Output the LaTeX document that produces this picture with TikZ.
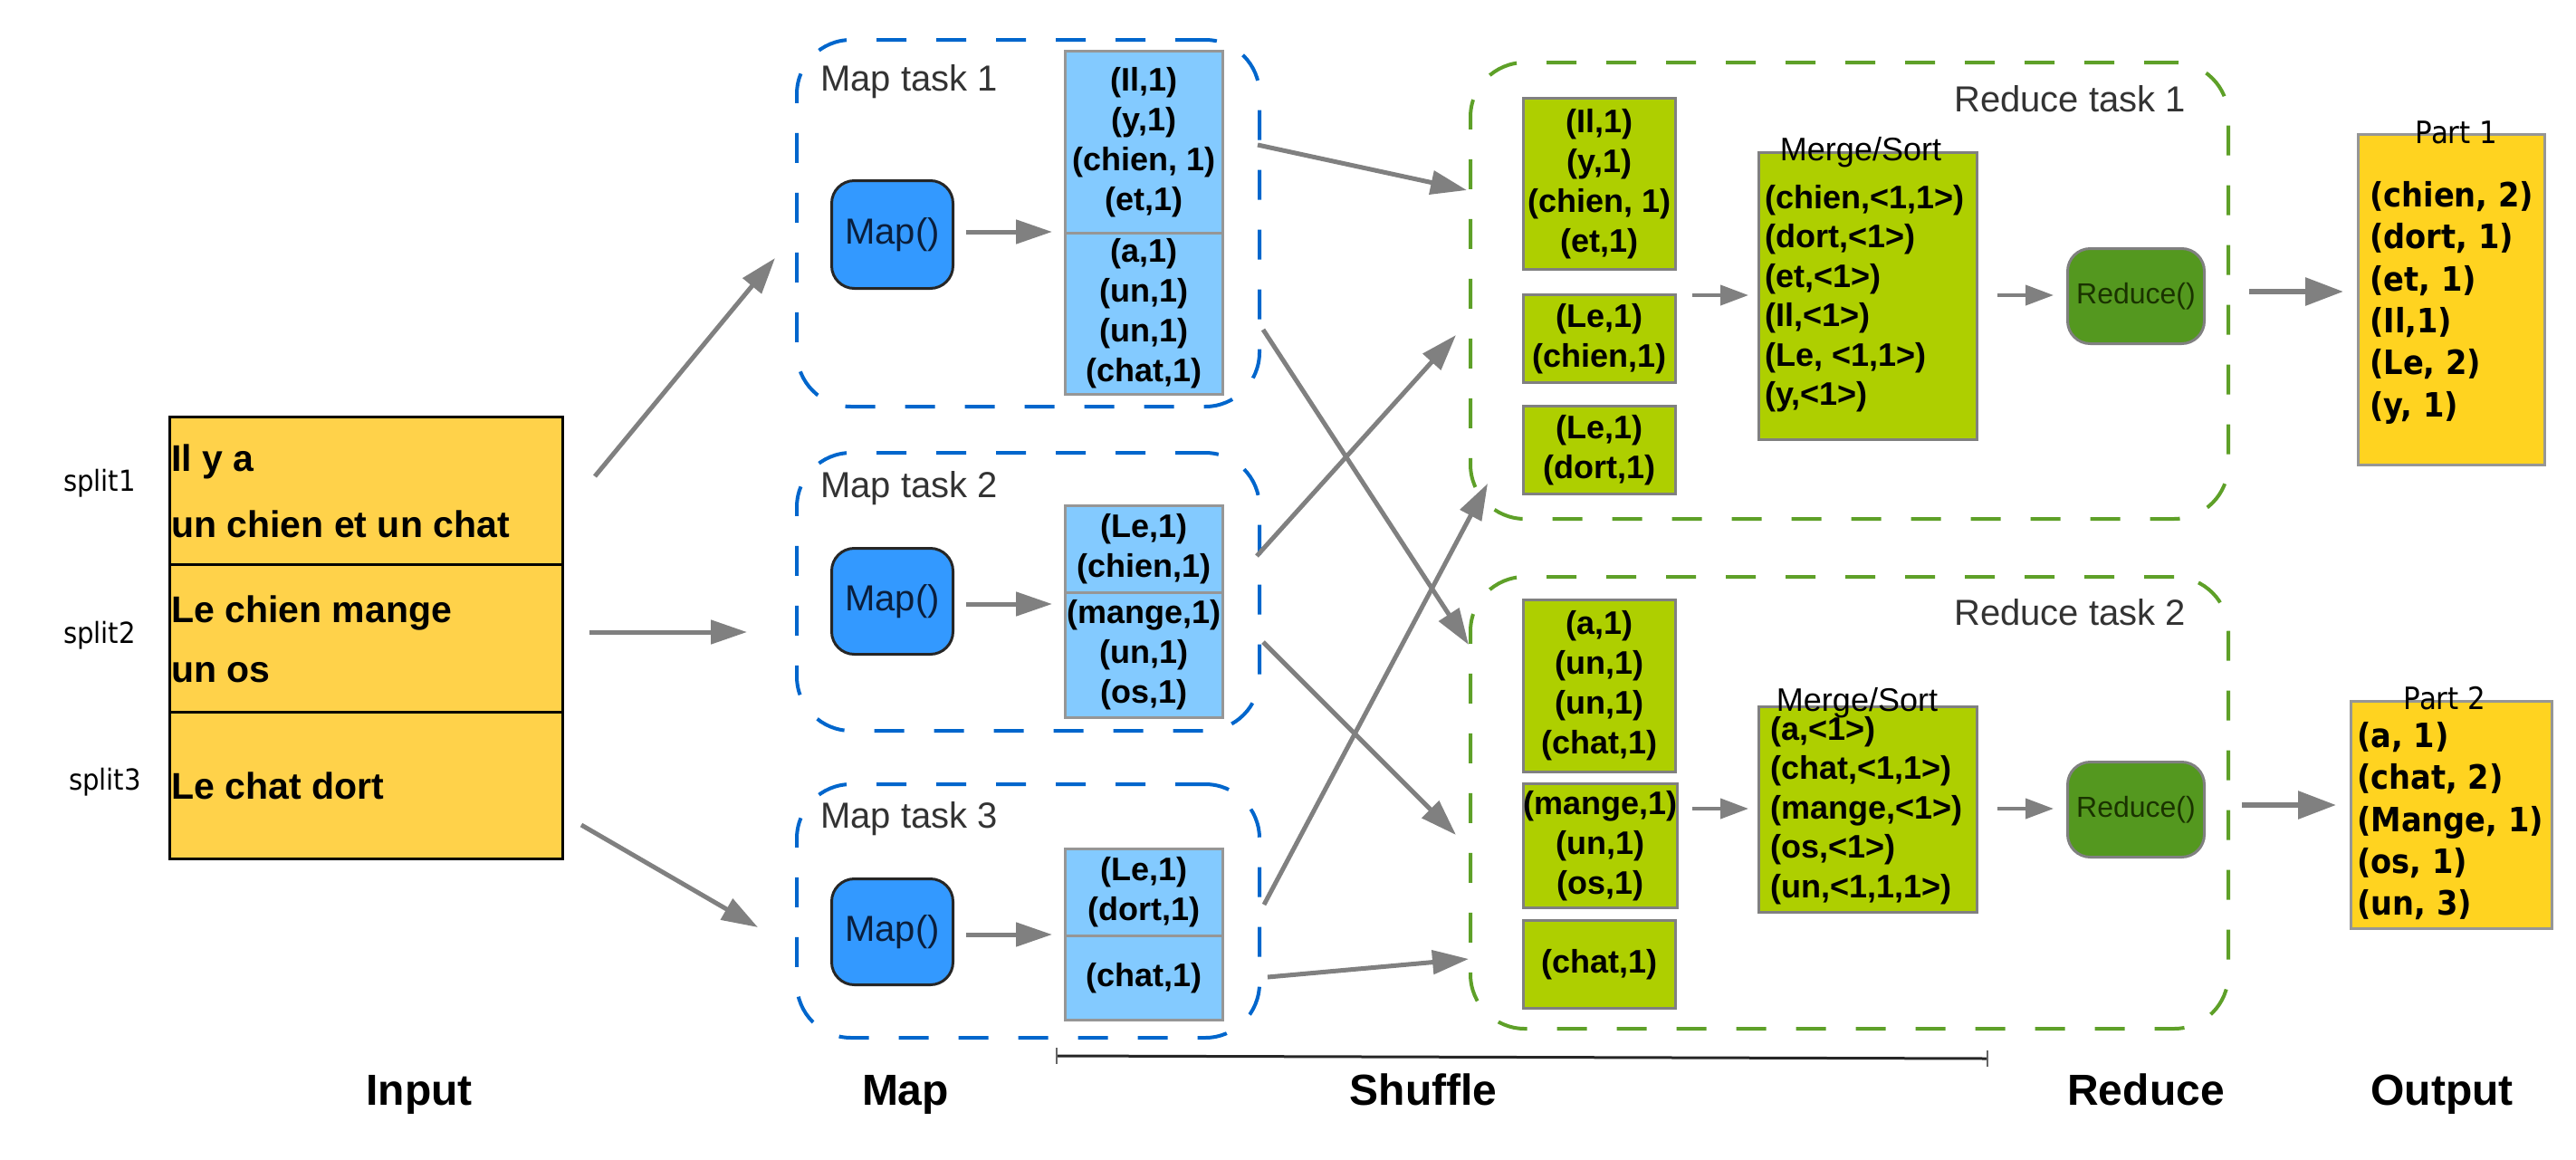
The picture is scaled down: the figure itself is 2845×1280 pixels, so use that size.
\documentclass[tikz,border=0pt]{standalone}
\usepackage{fontspec}
\setmainfont{Liberation Sans}
\newfontfamily\dejavu{DejaVu Sans}
\newfontfamily\dejavun[FakeStretch=0.91]{DejaVu Sans}
\usetikzlibrary{arrows.meta,calc}
\definecolor{mapdash}{RGB}{0,102,204}
\definecolor{reddash}{RGB}{94,160,40}
\definecolor{listblue}{RGB}{131,202,255}
\definecolor{mapfill}{RGB}{51,153,255}
\definecolor{mapfntext}{RGB}{10,30,60}
\definecolor{listgreen}{RGB}{174,207,0}
\definecolor{redfill}{RGB}{84,152,31}
\definecolor{redfntext}{RGB}{26,51,0}
\definecolor{inputfill}{RGB}{255,210,74}
\definecolor{outfill}{RGB}{255,211,32}
\definecolor{arrowgray}{RGB}{128,128,128}
\definecolor{boxgray}{RGB}{150,150,150}
\definecolor{labelgray}{RGB}{51,51,51}
\newcommand\lstfnt{\fontsize{36}{44}\selectfont\bfseries}
\newcommand\msfnt{\fontsize{36}{43.5}\selectfont\bfseries}
\newcommand\outfnt{\fontsize{37}{46.4}\selectfont\dejavun\bfseries}
\begin{document}
\begin{tikzpicture}[x=1pt,y=-1pt,
  dashbox/.style={rounded corners=60pt, line width=4pt, dash pattern=on 33pt off 33pt, inner sep=0pt, anchor=north west},
  mapdashbox/.style={dashbox, draw=mapdash},
  reddashbox/.style={dashbox, draw=reddash},
  bluelist/.style={draw=boxgray, line width=3pt, fill=listblue, inner sep=0pt, anchor=north west, align=center, font=\lstfnt, minimum width=174pt},
  greenlist/.style={draw=arrowgray, line width=3pt, fill=listgreen, inner sep=0pt, anchor=north west, align=center, font=\lstfnt, minimum width=168pt},
  mergebox/.style={draw=arrowgray, line width=3pt, fill=listgreen, inner sep=0pt, anchor=north west, minimum width=241pt},
  mstext/.style={anchor=north west, inner sep=0pt, align=left, font=\msfnt},
  mapfn/.style={draw=black!85, line width=3pt, fill=mapfill, rounded corners=25pt, inner sep=0pt, anchor=north west, minimum width=134pt, font=\fontsize{40}{48}\selectfont, text=mapfntext},
  redfn/.style={draw=arrowgray, line width=3pt, fill=redfill, rounded corners=25pt, inner sep=0pt, anchor=north west, minimum width=151pt, minimum height=105pt, font=\fontsize{32}{38}\selectfont, text=redfntext},
  splitbox/.style={draw=black, line width=3pt, fill=inputfill, inner sep=0pt, anchor=north west, minimum width=434pt},
  intext/.style={anchor=base west, inner sep=0pt, font=\fontsize{41}{48}\selectfont\bfseries},
  splitlbl/.style={anchor=base, inner sep=0pt, font=\fontsize{32}{36}\selectfont\dejavun},
  outbox/.style={draw=boxgray, line width=3pt, fill=outfill, inner sep=0pt, anchor=north west},
  outtext/.style={anchor=north west, inner sep=0pt, align=left, font=\outfnt},
  partlbl/.style={anchor=base, inner sep=0pt, font=\fontsize{34}{40}\selectfont\dejavun},
  tasklbl/.style={inner sep=0pt, text=labelgray, font=\fontsize{40}{48}\selectfont},
  steplbl/.style={anchor=base, inner sep=0pt, font=\fontsize{48}{56}\selectfont\bfseries},
  mslbl/.style={anchor=base, inner sep=0pt, font=\fontsize{36}{42}\selectfont},
  flow/.style={draw=arrowgray, line width=5pt, -{Triangle[length=40pt,width=26pt]}},
  bigflow/.style={draw=arrowgray, line width=6pt, -{Triangle[length=42pt,width=30pt]}},
  smallflow/.style={draw=arrowgray, line width=4pt, -{Triangle[length=31pt,width=22pt]}},
]
\useasboundingbox (0,0) rectangle (2845,1280);

% ---------- Input ----------
\node[splitbox, minimum height=163pt] (s1) at (186,459) {};
\node[splitbox, minimum height=163pt] (s2) at (186,622) {};
\node[splitbox, minimum height=162pt] (s3) at (186,785) {};
\node[intext] (t1a) at (189,520) {Il y a};
\node[intext] (t1b) at (189,593) {un chien et un chat};
\node[intext] (t2a) at (189,687) {Le chien mange};
\node[intext] (t2b) at (189,753) {un os};
\node[intext] (t3a) at (189,882) {Le chat dort};
\node[splitlbl] (l1) at (110,542) {split1};
\node[splitlbl] (l2) at (110,710) {split2};
\node[splitlbl] (l3) at (116,872) {split3};

% ---------- Map tasks ----------
\node[mapdashbox, minimum width=511pt, minimum height=405pt] (mt1) at (878,42) {};
\node[mapdashbox, minimum width=511pt, minimum height=307pt] (mt2) at (878,498) {};
\node[mapdashbox, minimum width=511pt, minimum height=280pt] (mt3) at (878,864) {};
\node[tasklbl, anchor=base west] (mtl1) at (906,100) {Map task 1};
\node[tasklbl, anchor=base west] (mtl2) at (906,549) {Map task 2};
\node[tasklbl, anchor=base west] (mtl3) at (906,914) {Map task 3};

\node[mapfn, minimum height=119pt] (mf1) at (917,198) {Map()};
\node[mapfn, minimum height=117pt] (mf2) at (917,604) {Map()};
\node[mapfn, minimum height=117pt] (mf3) at (917,969) {Map()};

\node[bluelist, minimum height=201pt] (m1a) at (1175,55) {(Il,1)\\(y,1)\\(chien, 1)\\(et,1)};
\node[bluelist, minimum height=178pt] (m1b) at (1175,256) {(a,1)\\(un,1)\\(un,1)\\(chat,1)};
\node[bluelist, minimum height=96pt] (m2a) at (1175,557) {(Le,1)\\(chien,1)};
\node[bluelist, minimum height=138pt] (m2b) at (1175,653) {(mange,1)\\(un,1)\\(os,1)};
\node[bluelist, minimum height=96pt] (m3a) at (1175,936) {(Le,1)\\(dort,1)};
\node[bluelist, minimum height=93pt] (m3b) at (1175,1032) {(chat,1)};

% ---------- Reduce tasks ----------
\node[reddashbox, minimum width=837pt, minimum height=504pt] (rt1) at (1622,67) {};
\node[reddashbox, minimum width=837pt, minimum height=499pt] (rt2) at (1622,635) {};
\node[tasklbl, anchor=base east] (rtl1) at (2414,123) {Reduce task 1};
\node[tasklbl, anchor=base east] (rtl2) at (2414,690) {Reduce task 2};

\node[greenlist, minimum height=189pt] (r1a) at (1681,107) {(Il,1)\\(y,1)\\(chien, 1)\\(et,1)};
\node[greenlist, minimum height=97pt] (r1b) at (1681,324) {(Le,1)\\(chien,1)};
\node[greenlist, minimum height=97pt] (r1c) at (1681,447) {(Le,1)\\(dort,1)};
\node[greenlist, minimum height=190pt] (r2a) at (1681,661) {(a,1)\\(un,1)\\(un,1)\\(chat,1)};
\node[greenlist, minimum height=137pt] (r2b) at (1681,864) {(mange,1)\\(un,1)\\(os,1)};
\node[greenlist, minimum height=97pt] (r2c) at (1681,1015) {(chat,1)};

\node[mergebox, minimum height=317pt] (ms1) at (1941,167) {};
\node[mergebox, minimum height=227pt] (ms2) at (1941,779) {};
\node[mstext] (ms1t) at (1949,204) {(chien,<1,1>)\\(dort,<1>)\\(et,<1>)\\(Il,<1>)\\(Le, <1,1>)\\(y,<1>)};
\node[mstext] (ms2t) at (1955,791) {(a,<1>)\\(chat,<1,1>)\\(mange,<1>)\\(os,<1>)\\(un,<1,1,1>)};
\node[mslbl] (msl1) at (2055,177) {Merge/Sort};
\node[mslbl] (msl2) at (2051,785) {Merge/Sort};

\node[redfn] (rf1) at (2282,273) {Reduce()};
\node[redfn] (rf2) at (2282,840) {Reduce()};

% ---------- Output ----------
\node[outbox, minimum width=206pt, minimum height=365pt] (p1) at (2603,147) {};
\node[outbox, minimum width=222pt, minimum height=251pt] (p2) at (2595,773) {};
\node[outtext] (p1t) at (2617,200) {(chien, 2)\\(dort, 1)\\(et, 1)\\(Il,1)\\(Le, 2)\\(y, 1)};
\node[outtext] (p2t) at (2603,797) {(a, 1)\\(chat, 2)\\(Mange, 1)\\(os, 1)\\(un, 3)};
\node[partlbl] (pl1) at (2713,158) {Part 1};
\node[partlbl] (pl2) at (2700,783) {Part 2};

% ---------- Connector end points ----------
\coordinate (a1s) at (657,526);   \coordinate (a1e) at (856,285);
\coordinate (a2s) at (651,698);   \coordinate (a2e) at (825,698);
\coordinate (a3s) at (642,911);   \coordinate (a3e) at (837,1024);
\coordinate (b1s) at (1067,256);  \coordinate (b1e) at (1162,256);
\coordinate (b2s) at (1067,667);  \coordinate (b2e) at (1162,667);
\coordinate (b3s) at (1067,1032); \coordinate (b3e) at (1162,1032);
\coordinate (cAs) at (1389,160);  \coordinate (cAe) at (1620,210);
\coordinate (cBs) at (1395,364);  \coordinate (cBe) at (1622,712);
\coordinate (cCs) at (1388,614);  \coordinate (cCe) at (1608,370);
\coordinate (cDs) at (1395,709);  \coordinate (cDe) at (1608,922);
\coordinate (cEs) at (1396,999);  \coordinate (cEe) at (1643,534);
\coordinate (cFs) at (1400,1079); \coordinate (cFe) at (1622,1059);
\coordinate (d1s) at (1869,326);  \coordinate (d1e) at (1931,326);
\coordinate (d2s) at (2206,326);  \coordinate (d2e) at (2268,326);
\coordinate (d3s) at (1869,893);  \coordinate (d3e) at (1931,893);
\coordinate (d4s) at (2206,893);  \coordinate (d4e) at (2268,893);
\coordinate (e1s) at (2484,322);  \coordinate (e1e) at (2588,322);
\coordinate (e2s) at (2476,889);  \coordinate (e2e) at (2580,889);

\draw[flow] (a1s) -- (a1e);
\draw[flow] (a2s) -- (a2e);
\draw[flow] (a3s) -- (a3e);
\draw[flow] (b1s) -- (b1e);
\draw[flow] (b2s) -- (b2e);
\draw[flow] (b3s) -- (b3e);
\draw[flow] (cAs) -- (cAe);
\draw[flow] (cBs) -- (cBe);
\draw[flow] (cCs) -- (cCe);
\draw[flow] (cDs) -- (cDe);
\draw[flow] (cEs) -- (cEe);
\draw[flow] (cFs) -- (cFe);
\draw[smallflow] (d1s) -- (d1e);
\draw[smallflow] (d2s) -- (d2e);
\draw[smallflow] (d3s) -- (d3e);
\draw[smallflow] (d4s) -- (d4e);
\draw[bigflow] (e1s) -- (e1e);
\draw[bigflow] (e2s) -- (e2e);

% ---------- Shuffle bracket ----------
\coordinate (shL) at (1167,1166);
\coordinate (shR) at (2195,1169);
\draw[line width=3pt, black!85] (shL) -- (shR);
\draw[line width=1.5pt, black!60] ($(shL)+(0,-9)$) -- ($(shL)+(0,9)$);
\draw[line width=1.5pt, black!60] ($(shR)+(0,-9)$) -- ($(shR)+(0,9)$);

% ---------- Step labels ----------
\node[steplbl] (lin) at (463,1220) {Input};
\node[steplbl] (lmap) at (1000,1220) {Map};
\node[steplbl] (lsh) at (1572,1220) {Shuffle};
\node[steplbl] (lred) at (2370,1220) {Reduce};
\node[steplbl] (lout) at (2697,1220) {Output};
\end{tikzpicture}
\end{document}
